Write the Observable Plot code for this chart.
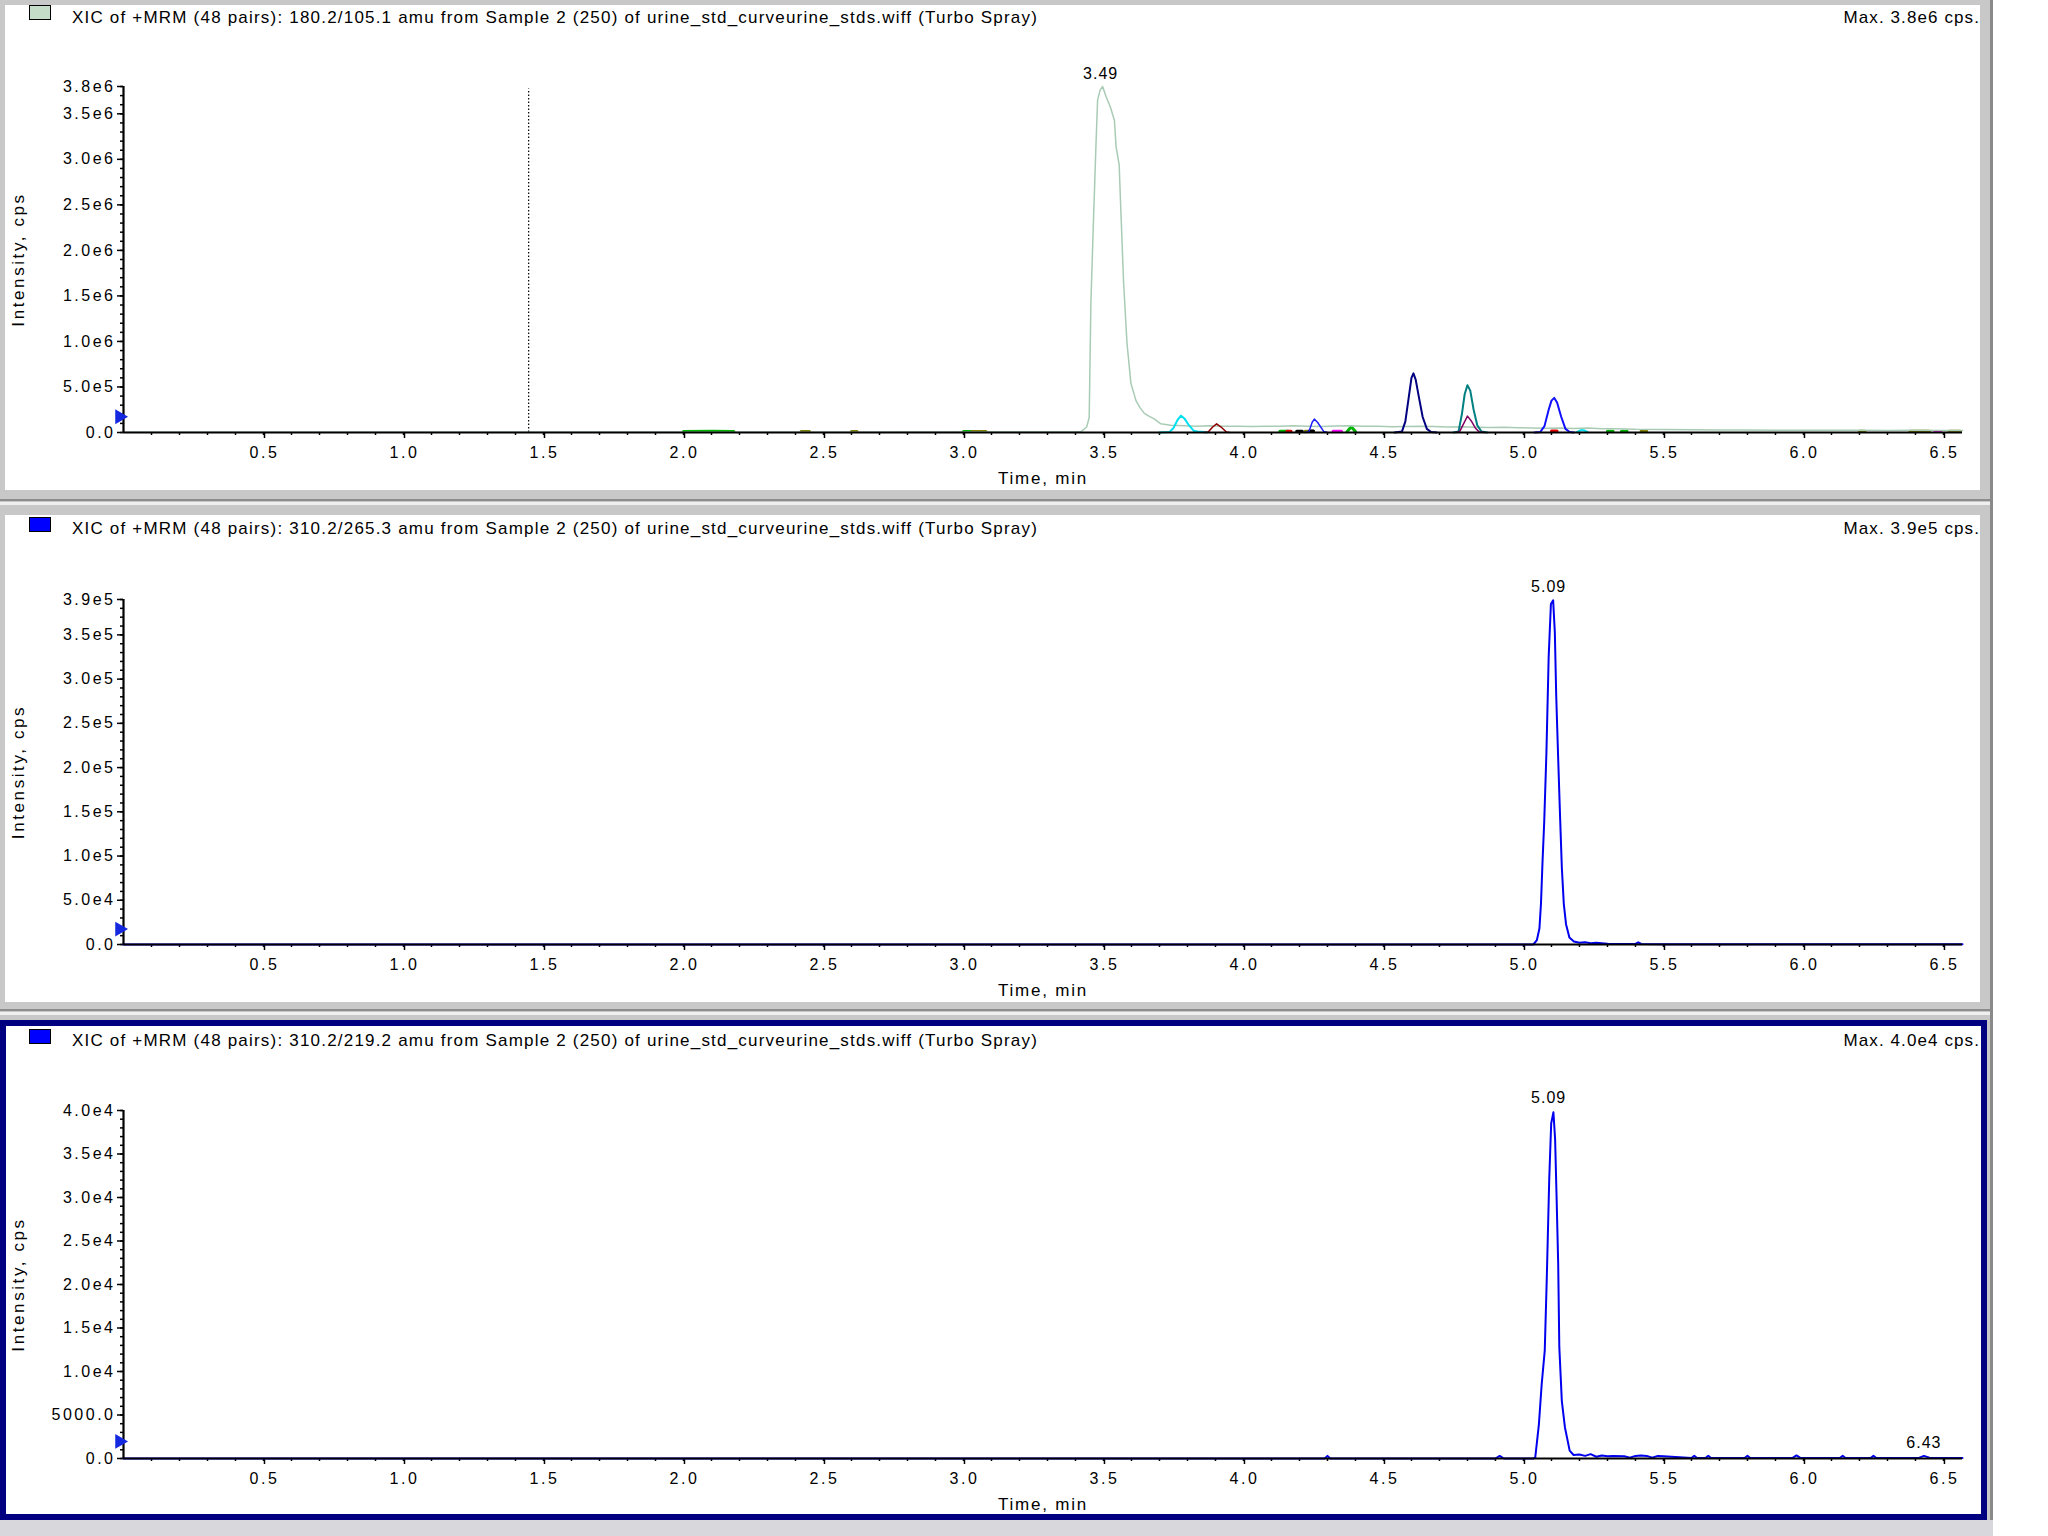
<!DOCTYPE html>
<html>
<head>
<meta charset="utf-8">
<script src="https://cdn.jsdelivr.net/npm/d3@7"></script>
<script src="https://cdn.jsdelivr.net/npm/@observablehq/plot@0.6"></script>
<style>
  html, body { margin: 0; padding: 0; background: #ffffff; }
  body { width: 2048px; height: 1536px; position: relative; overflow: hidden; font-family: "Liberation Sans", Arial, sans-serif; }
  .abs { position: absolute; }
  .white { background: #ffffff; }
  .title { position: absolute; left: 72px; font-size: 17px; line-height: 20px; color: #000; white-space: nowrap; letter-spacing: 1.2px; }
  .max { position: absolute; right: 68px; font-size: 17px; line-height: 20px; color: #000; white-space: nowrap; letter-spacing: 1.1px; }
  .swatch { position: absolute; left: 29px; width: 20px; height: 13px; border: 1px solid #000; }
  .chart { position: absolute; }
  .chart svg { overflow: visible; }
  g[aria-label="x-axis label"] text { font-size: 17px; letter-spacing: 1.8px; }
  g[aria-label="y-axis label"] text { font-size: 17px; letter-spacing: 2.6px; }
  g[aria-label="x-axis tick label"] text, g[aria-label="y-axis tick label"] text { font-size: 16px; letter-spacing: 2.5px; }
  g[aria-label="text"] text { font-size: 16px; letter-spacing: 1px; }
</style>
</head>
<body>
<div class="abs" style="left:0;top:0;width:1990px;height:1520px;background:#c8c8c8"></div>
<div class="abs" style="left:1990px;top:0;width:3px;height:1520px;background:#8a8a8a"></div>
<div class="abs" style="left:0;top:1520px;width:1993px;height:16px;background:#d8d8dc"></div>
<div class="abs" style="left:0;top:499px;width:1990px;height:2px;background:#8c8c8c"></div>
<div class="abs" style="left:0;top:502px;width:1990px;height:3px;background:#efefef"></div>
<div class="abs" style="left:0;top:1009px;width:1990px;height:2px;background:#8c8c8c"></div>
<div class="abs" style="left:0;top:1012px;width:1990px;height:3px;background:#efefef"></div>

<div class="abs white" style="left:5px;top:5px;width:1975px;height:485px"></div>
<div class="abs white" style="left:5px;top:515px;width:1975px;height:487px"></div>
<div class="abs" style="left:0;top:1020px;width:1987px;height:500px;background:#000080"></div>
<div class="abs white" style="left:6px;top:1026px;width:1975px;height:488px"></div>

<div class="swatch" style="top:5px;background:#c4dcc8"></div>
<div class="title" id="t1" style="top:8px"></div>
<div class="max" id="m1" style="top:8px"></div>
<div class="chart" id="c1" style="left:5px;top:5px"></div>

<div class="swatch" style="top:517px;background:#0000ff"></div>
<div class="title" id="t2" style="top:519px"></div>
<div class="max" id="m2" style="top:519px"></div>
<div class="chart" id="c2" style="left:5px;top:515px"></div>

<div class="swatch" style="top:1029px;background:#0000ff"></div>
<div class="title" id="t3" style="top:1031px"></div>
<div class="max" id="m3" style="top:1031px"></div>
<div class="chart" id="c3" style="left:6px;top:1026px"></div>

<script>
// ---------- Text ----------
const titles = [
  "XIC of +MRM (48 pairs): 180.2/105.1 amu from Sample 2 (250) of urine_std_curveurine_stds.wiff (Turbo Spray)",
  "XIC of +MRM (48 pairs): 310.2/265.3 amu from Sample 2 (250) of urine_std_curveurine_stds.wiff (Turbo Spray)",
  "XIC of +MRM (48 pairs): 310.2/219.2 amu from Sample 2 (250) of urine_std_curveurine_stds.wiff (Turbo Spray)"
];
const maxLabels = ["Max. 3.8e6 cps.", "Max. 3.9e5 cps.", "Max. 4.0e4 cps."];
const xLabel = "Time, min";
const yLabel = "Intensity, cps";

// ---------- Axes ----------
const xMax = 6.568;
const xTicks = [0.5, 1.0, 1.5, 2.0, 2.5, 3.0, 3.5, 4.0, 4.5, 5.0, 5.5, 6.0, 6.5];
const xMinorStep = 0.1;
const yTicks1 = [0, 5e5, 1e6, 1.5e6, 2e6, 2.5e6, 3e6, 3.5e6, 3.8e6];
const yTicks2 = [0, 5e4, 1e5, 1.5e5, 2e5, 2.5e5, 3e5, 3.5e5, 3.9e5];
const yTicks3 = [0, 5000, 1e4, 1.5e4, 2e4, 2.5e4, 3e4, 3.5e4, 4e4];
const yMinorStep = [1e5, 1e4, 1000];
const yMax = [3.8e6, 3.9e5, 4.0e4];
const markerLevel = [1.73e5, 1.74e4, 1.96e3];   // blue threshold arrow on the y axis
const dottedTime = [1.447];                     // dotted vertical line (panel 1)

// ---------- Panel 1: 180.2/105.1 and overlaid XICs ----------
const p1MainT = [0.0, 0.5, 1.0, 1.5, 2.0, 2.5, 3.0, 3.3, 3.40, 3.42, 3.44, 3.449, 3.455, 3.464, 3.473, 3.479, 3.488, 3.497, 3.509, 3.524, 3.539, 3.545, 3.556, 3.562, 3.572, 3.584, 3.598, 3.616, 3.631, 3.646, 3.662, 3.681, 3.705, 3.74, 3.787, 3.83, 3.88, 3.93, 3.98, 4.03, 4.08, 4.13, 4.18, 4.23, 4.28, 4.33, 4.38, 4.43, 4.48, 4.53, 4.58, 4.63, 4.68, 4.73, 4.78, 4.83, 4.88, 4.93, 4.98, 5.03, 5.08, 5.13, 5.18, 5.23, 5.28, 5.33, 5.40, 5.50, 5.60, 5.70, 5.80, 5.90, 6.00, 6.10, 6.20, 6.30, 6.40, 6.50, 6.568];
const p1MainV = [3000, 3000, 3000, 3000, 4000, 4000, 5000, 5000, 5000, 10000, 60000, 165000, 1420000, 2300000, 3140000, 3650000, 3760000, 3800000, 3690000, 3580000, 3430000, 3140000, 2940000, 2440000, 1640000, 980000, 540000, 350000, 270000, 210000, 180000, 150000, 95000, 80000, 74000, 70000, 75000, 68000, 70000, 66000, 70000, 68000, 74000, 70000, 65000, 72000, 75000, 70000, 68000, 64000, 66000, 70000, 65000, 60000, 62000, 58000, 55000, 57000, 52000, 50000, 48000, 50000, 45000, 50000, 40000, 42000, 35000, 33000, 30000, 28000, 27000, 26000, 25000, 24000, 26000, 23000, 24000, 22000, 22000];

const p1CyanT = [3.70, 3.736, 3.750, 3.765, 3.777, 3.790, 3.805, 3.822, 3.837, 3.85, 3.87];
const p1CyanV = [0, 5000, 50000, 140000, 185000, 150000, 80000, 20000, 8000, 8000, 0];
const p1MaroonT = [3.86, 3.874, 3.89, 3.904, 3.92, 3.939, 3.95];
const p1MaroonV = [0, 5000, 60000, 95000, 60000, 5000, 0];
const p1BlueSmallT = [4.22, 4.234, 4.245, 4.253, 4.265, 4.287, 4.30];
const p1BlueSmallV = [0, 10000, 110000, 147000, 110000, 10000, 0];
const p1NavyT = [4.54, 4.566, 4.578, 4.59, 4.60, 4.607, 4.615, 4.627, 4.64, 4.655, 4.67, 4.69];
const p1NavyV = [0, 10000, 120000, 380000, 600000, 650000, 580000, 380000, 170000, 40000, 5000, 0];
const p1TealT = [4.75, 4.768, 4.78, 4.79, 4.80, 4.81, 4.822, 4.835, 4.85, 4.87];
const p1TealV = [0, 10000, 200000, 420000, 520000, 460000, 250000, 80000, 10000, 0];
const p1PurpleT = [4.76, 4.772, 4.785, 4.80, 4.813, 4.828, 4.842, 4.86];
const p1PurpleV = [0, 10000, 90000, 180000, 130000, 50000, 5000, 0];
const p1BlueT = [5.04, 5.06, 5.075, 5.09, 5.10, 5.11, 5.12, 5.135, 5.15, 5.165, 5.18];
const p1BlueV = [0, 5000, 70000, 250000, 350000, 380000, 330000, 170000, 40000, 5000, 0];
const p1GreenT = [2.00, 2.10, 2.18, null, 3.00, 3.06, null, 4.13, 4.16, null, 4.37, 4.378, 4.385, 4.392, 4.40, null, 5.30, 5.32, null, 5.35, 5.37];
const p1GreenV = [12000, 14000, 12000, null, 12000, 12000, null, 14000, 14000, null, 8000, 40000, 60000, 40000, 8000, null, 14000, 14000, null, 14000, 14000];
const p1OliveT = [2.42, 2.45, null, 2.60, 2.62, null, 3.03, 3.08, null, 4.22, 4.25, null, 5.42, 5.44, null, 6.20, 6.22, null, 6.38, 6.45, null, 6.52, 6.56];
const p1OliveV = [12000, 12000, null, 12000, 12000, null, 12000, 12000, null, 14000, 14000, null, 14000, 14000, null, 14000, 14000, null, 14000, 14000, null, 14000, 14000];
const p1RedT = [4.155, 4.17, null, 5.10, 5.12];
const p1RedV = [14000, 14000, null, 16000, 16000];
const p1BlackT = [4.19, 4.21, null, 4.235, 4.25];
const p1BlackV = [14000, 14000, null, 16000, 16000];
const p1MagentaT = [4.32, 4.35, null, 6.47, 6.49];
const p1MagentaV = [14000, 14000, null, 12000, 12000];
const p1Cyan2T = [5.19, 5.205, 5.215, 5.23];
const p1Cyan2V = [5000, 25000, 25000, 5000];

const p1PeakT = [3.49];
const p1PeakV = [3.8e6];

// ---------- Panel 2: 310.2/265.3 ----------
const p2T = [0, 4.9, 5.035, 5.048, 5.057, 5.0625, 5.068, 5.074, 5.082, 5.090, 5.098, 5.106, 5.112, 5.117, 5.124, 5.131, 5.137, 5.144, 5.152, 5.164, 5.18, 5.20, 5.22, 5.24, 5.26, 5.28, 5.30, 5.40, 5.41, 5.42, 5.5, 6.0, 6.568];
const p2V = [0, 0, 0, 5000, 18000, 46000, 93000, 138000, 217000, 325000, 385000, 389000, 353000, 281000, 210000, 142000, 87000, 46000, 23000, 8000, 3500, 2000, 2500, 1500, 2000, 1500, 800, 600, 2500, 600, 400, 300, 300];
const p2PeakT = [5.09];
const p2PeakV = [3.9e5];

// ---------- Panel 3: 310.2/219.2 ----------
const p3T = [0, 4.29, 4.30, 4.31, 4.90, 4.915, 4.93, 5.035, 5.042, 5.055, 5.065, 5.076, 5.083, 5.092, 5.099, 5.107, 5.113, 5.118, 5.124, 5.128, 5.137, 5.148, 5.165, 5.179, 5.20, 5.22, 5.24, 5.26, 5.28, 5.30, 5.32, 5.36, 5.38, 5.40, 5.42, 5.44, 5.46, 5.48, 5.50, 5.60, 5.61, 5.62, 5.65, 5.66, 5.67, 5.79, 5.80, 5.81, 5.96, 5.975, 5.99, 6.13, 6.14, 6.15, 6.24, 6.25, 6.26, 6.41, 6.43, 6.45, 6.568];
const p3V = [0, 0, 300, 0, 0, 300, 0, 0, 100, 3900, 8500, 12400, 20400, 32100, 38500, 39800, 36700, 30400, 22400, 12800, 6600, 3600, 900, 400, 450, 300, 500, 200, 350, 250, 300, 250, 100, 300, 350, 300, 100, 300, 250, 50, 300, 50, 50, 300, 50, 50, 300, 50, 50, 350, 50, 50, 300, 50, 50, 300, 50, 50, 300, 100, 50];
const p3PeakT = [5.09, 6.43];
const p3PeakV = [4.0e4, 300];

// ---------- Helpers ----------
const rows = (ts, vs) => ts.map((t, i) => ({t, v: vs[i]}));
const fmtY = d => d === 0 ? "0.0" : d < 1e4 ? d.toFixed(1) : d.toExponential(1).replace("e+", "e");
const xMinor = d3.range(0.1, xMax, xMinorStep).map(d => +d.toFixed(2));

function drawPanel({id, width, height, mL, mR, mT, mB, yDomainMax, yTicks, yMinor, traces, peaks, marker, dotted}) {
  const marks = [
    Plot.axisY({ticks: yMinor, tickSize: 3, tickFormat: () => "", label: null, strokeWidth: 1.5}),
    Plot.axisY({ticks: yTicks, tickSize: 6, tickPadding: 2, tickFormat: fmtY, strokeWidth: 1.5,
      label: yLabel, labelAnchor: "center", labelArrow: "none", labelOffset: 112}),
    Plot.axisX({ticks: xMinor, tickSize: 3, tickFormat: () => "", label: null, strokeWidth: 1.5}),
    Plot.axisX({ticks: xTicks, tickSize: 6, tickPadding: 8, tickFormat: d => d.toFixed(1), strokeWidth: 1.5, dx: 1,
      label: xLabel, labelAnchor: "center", labelArrow: "none", labelOffset: 51})
  ];
  if (dotted) marks.push(Plot.ruleX(dotted, {y1: 0, y2: yDomainMax * 0.993, stroke: "#000", strokeWidth: 1.2, strokeDasharray: "1.5,2"}));
  for (const tr of traces) {
    marks.push(Plot.line(rows(tr.t, tr.v), {x: "t", y: "v", stroke: tr.color, strokeWidth: tr.w || 2, curve: "linear"}));
  }
  marks.push(Plot.ruleY([0], {stroke: "#000", strokeWidth: 2.2}));
  marks.push(Plot.ruleX([0], {stroke: "#000", strokeWidth: 2.2}));
  marks.push(Plot.dot([marker], {x: () => 0, y: d => d, symbol: "triangle", rotate: 90, r: 5.5, fill: "#1428e0", stroke: "none", dx: -4}));
  marks.push(Plot.text(rows(peaks.t, peaks.v), {x: "t", y: "v", text: d => d.t.toFixed(2), dy: -13, fill: "#000", lineAnchor: "middle"}));
  const chart = Plot.plot({
    width, height,
    marginLeft: mL, marginRight: mR, marginTop: mT, marginBottom: mB,
    x: {domain: [0, xMax]},
    y: {domain: [0, yDomainMax]},
    style: {fontFamily: "'Liberation Sans', Arial, sans-serif", fontSize: "16px", color: "#000", background: "transparent", overflow: "visible"},
    marks
  });
  document.getElementById(id).appendChild(chart);
}

["t1", "t2", "t3"].forEach((id, i) => document.getElementById(id).textContent = titles[i]);
["m1", "m2", "m3"].forEach((id, i) => document.getElementById(id).textContent = maxLabels[i]);

drawPanel({
  id: "c1", width: 1975, height: 485, mL: 118, mR: 18, mT: 81, mB: 58,
  yDomainMax: yMax[0], yTicks: yTicks1, yMinor: d3.range(0, yMax[0] + 1, yMinorStep[0]),
  marker: markerLevel[0], dotted: dottedTime,
  peaks: {t: p1PeakT, v: p1PeakV},
  traces: [
    {t: p1GreenT, v: p1GreenV, color: "#00b400", w: 3},
    {t: p1OliveT, v: p1OliveV, color: "#808000", w: 3},
    {t: p1RedT, v: p1RedV, color: "#e00000", w: 3},
    {t: p1BlackT, v: p1BlackV, color: "#000000", w: 3},
    {t: p1MagentaT, v: p1MagentaV, color: "#ff00ff", w: 3},
    {t: p1MainT, v: p1MainV, color: "#a9cbb5", w: 1.5},
    {t: p1CyanT, v: p1CyanV, color: "#00e0f0", w: 2},
    {t: p1Cyan2T, v: p1Cyan2V, color: "#00e0f0", w: 2},
    {t: p1MaroonT, v: p1MaroonV, color: "#900000", w: 1.5},
    {t: p1BlueSmallT, v: p1BlueSmallV, color: "#2020ff", w: 1.5},
    {t: p1NavyT, v: p1NavyV, color: "#000080", w: 2},
    {t: p1TealT, v: p1TealV, color: "#008080", w: 2},
    {t: p1PurpleT, v: p1PurpleV, color: "#800060", w: 1.5},
    {t: p1BlueT, v: p1BlueV, color: "#1010ff", w: 2}
  ]
});

drawPanel({
  id: "c2", width: 1975, height: 487, mL: 118, mR: 18, mT: 84, mB: 58,
  yDomainMax: yMax[1], yTicks: yTicks2, yMinor: d3.range(0, yMax[1] + 1, yMinorStep[1]),
  marker: markerLevel[1],
  peaks: {t: p2PeakT, v: p2PeakV},
  traces: [{t: p2T, v: p2V, color: "#0000ee", w: 2}]
});

drawPanel({
  id: "c3", width: 1975, height: 488, mL: 117, mR: 19, mT: 84, mB: 56,
  yDomainMax: yMax[2], yTicks: yTicks3, yMinor: d3.range(0, yMax[2] + 1, yMinorStep[2]),
  marker: markerLevel[2],
  peaks: {t: p3PeakT, v: p3PeakV},
  traces: [{t: p3T, v: p3V, color: "#0000ee", w: 2}]
});
</script>
</body>
</html>
